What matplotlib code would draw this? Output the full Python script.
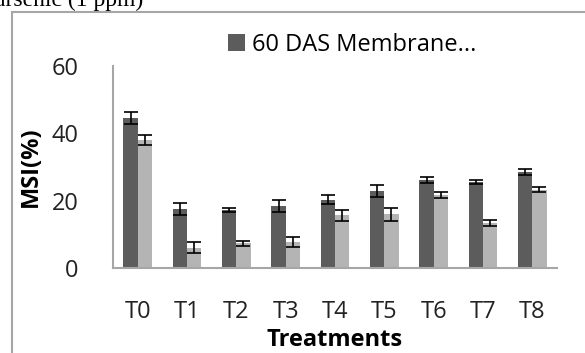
import matplotlib
matplotlib.use("Agg")
import matplotlib.pyplot as plt
from matplotlib.patches import Rectangle
import numpy as np

treatments = ["T0", "T1", "T2", "T3", "T4", "T5", "T6", "T7", "T8"]
msi_60das = [44.5, 17.5, 17.2, 18.3, 20.3, 23.0, 26.2, 25.6, 28.4]
err_60das = [1.8, 1.8, 0.6, 1.8, 1.4, 1.8, 0.9, 0.6, 0.9]
msi_other = [38.0, 6.0, 7.3, 7.7, 15.6, 16.0, 21.7, 13.4, 23.3]
err_other = [1.6, 1.6, 0.7, 1.6, 1.5, 1.9, 0.9, 0.9, 0.7]
yticks = [0, 20, 40, 60]

W, H = 585, 353
fig = plt.figure(figsize=(W / 100, H / 100), dpi=100)
fig.patch.set_facecolor("white")

# outer chart frame, only top and left edges fall inside the figure
fig.patches.append(Rectangle((12 / W, -0.2), 1.2, (H - 12) / H + 0.2,
                             transform=fig.transFigure, fill=False,
                             edgecolor="#a6a6a6", linewidth=1.5))

fig.text(-5 / W, 1 - 6 / H, "arsenic (1 ppm)", family="Liberation Serif",
         fontsize=17, va="baseline", ha="left", color="black")

ax = fig.add_axes([113 / W, (H - 268) / H, (557 - 113) / W, (268 - 66) / H])
x = np.arange(len(treatments))
bw = 0.29
ekw = dict(ecolor="black", elinewidth=1.2, capsize=5, capthick=1.2)
ax.bar(x - bw / 2, msi_60das, bw, color="#5c5c5c", label="60 DAS Membrane...",
       yerr=err_60das, error_kw=ekw)
ax.bar(x + bw / 2, msi_other, bw, color="#b4b4b4", yerr=err_other, error_kw=ekw)

ax.set_xlim(-0.5, len(treatments) - 0.5)
ax.set_ylim(0, 60)
ax.set_yticks(yticks)
ax.set_xticks(x)
ax.set_xticklabels(treatments)
for s in ["top", "right"]:
    ax.spines[s].set_visible(False)
for s in ["left", "bottom"]:
    ax.spines[s].set_color("#a6a6a6")
    ax.spines[s].set_linewidth(1.5)
ax.tick_params(length=0, labelsize=17, colors="#222222")
ax.tick_params(axis="y", pad=25)
ax.tick_params(axis="x", pad=23)
for lab in ax.get_xticklabels() + ax.get_yticklabels():
    lab.set_family("Open Sans")

ax.set_ylabel("MSI(%)", fontsize=17, fontweight="bold", family="Open Sans", labelpad=6)
ax.set_xlabel("Treatments", fontsize=17, fontweight="bold", family="Open Sans", labelpad=3)

ax.legend(loc="upper left", bbox_to_anchor=(228 / W, 1 - 33 / H), bbox_transform=fig.transFigure,
          frameon=False, prop=dict(family="Open Sans", size=17), handlelength=0.7,
          handleheight=0.7, handletextpad=0.3, borderaxespad=0, borderpad=0)

fig.savefig("out.png", dpi=100)
